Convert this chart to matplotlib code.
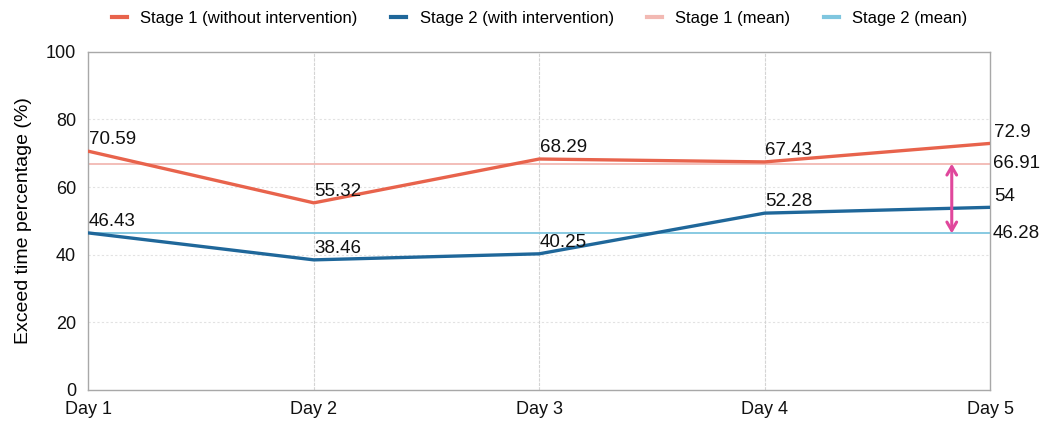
import matplotlib
matplotlib.use("Agg")
import matplotlib.pyplot as plt
from matplotlib.lines import Line2D

plt.rcParams['font.family'] = ['Liberation Sans', 'DejaVu Sans']

days = ["Day 1", "Day 2", "Day 3", "Day 4", "Day 5"]
stage1 = [70.59, 55.32, 68.29, 67.43, 72.9]
stage2 = [46.43, 38.46, 40.25, 52.28, 54]
stage1_mean = 66.91
stage2_mean = 46.28

c_s1 = "#e8634c"
c_s2 = "#1f679a"
c_m1 = "#f2b9b3"
c_m2 = "#7fc6df"
c_arrow = "#e0479c"

fig = plt.figure(figsize=(10.4, 4.28), dpi=100)
ax = fig.add_axes([0.085, 0.089, 0.867, 0.79])

x = list(range(len(days)))

ax.axhline(stage1_mean, color=c_m1, lw=1.3, zorder=2)
ax.axhline(stage2_mean, color=c_m2, lw=1.3, zorder=2)
ax.plot(x, stage1, color=c_s1, lw=2.4, zorder=3, solid_capstyle='round')
ax.plot(x, stage2, color=c_s2, lw=2.4, zorder=3, solid_capstyle='round')

ax.set_xlim(0, 4)
ax.set_ylim(0, 100)
ax.set_yticks([0, 20, 40, 60, 80, 100])
ax.set_xticks(x)
ax.set_xticklabels(days)
ax.tick_params(axis='both', length=0, labelsize=13, colors="#111111")
ax.tick_params(axis='x', pad=8)
ax.tick_params(axis='y', pad=9)

for yv in [20, 40, 60, 80]:
    ax.axhline(yv, color="#e2e2e2", lw=0.8, ls=(0, (2, 2)), zorder=1)
for xv in [1, 2, 3]:
    ax.axvline(xv, color="#d4d4d4", lw=0.8, ls=(0, (3, 1)), zorder=1)

for s in ax.spines.values():
    s.set_color("#a8a8a8")
    s.set_linewidth(1.0)

ax.set_ylabel("Exceed time percentage (%)", fontsize=14, labelpad=10)

# point labels
for i, (a, b) in enumerate(zip(stage1, stage2)):
    off = 0.5 if i < 4 else 3
    ax.annotate(f"{a:g}", (i, a), xytext=(off, 2), textcoords='offset points',
                ha='left', va='bottom', fontsize=13.5, color="#111111", zorder=4)
    ax.annotate(f"{b:g}", (i, b), xytext=(off, 2), textcoords='offset points',
                ha='left', va='bottom', fontsize=13.5, color="#111111", zorder=4)

# mean labels on the right
ax.annotate(f"{stage1_mean:g}", (4, stage1_mean), xytext=(2, 0), textcoords='offset points',
            ha='left', va='center', fontsize=13.5, color="#111111", annotation_clip=False)
ax.annotate(f"{stage2_mean:g}", (4, stage2_mean), xytext=(2, 0), textcoords='offset points',
            ha='left', va='center', fontsize=13.5, color="#111111", annotation_clip=False)

# gap between means
ax.annotate("", xy=(3.83, stage2_mean), xytext=(3.83, stage1_mean),
            arrowprops=dict(arrowstyle="<->,head_length=0.6,head_width=0.35", color=c_arrow,
                            lw=2.2, shrinkA=0, shrinkB=0), zorder=5)

handles = [Line2D([], [], color=c_s1, lw=3),
           Line2D([], [], color=c_s2, lw=3),
           Line2D([], [], color=c_m1, lw=3),
           Line2D([], [], color=c_m2, lw=3)]
labels = ["Stage 1 (without intervention)", "Stage 2 (with intervention)",
          "Stage 1 (mean)", "Stage 2 (mean)"]
fig.legend(handles, labels, loc='upper center', bbox_to_anchor=(0.519, 1.01), ncol=4,
           frameon=False, fontsize=12, handlelength=0.9, columnspacing=2.0, handletextpad=0.8)

fig.savefig("out.png", dpi=100)
